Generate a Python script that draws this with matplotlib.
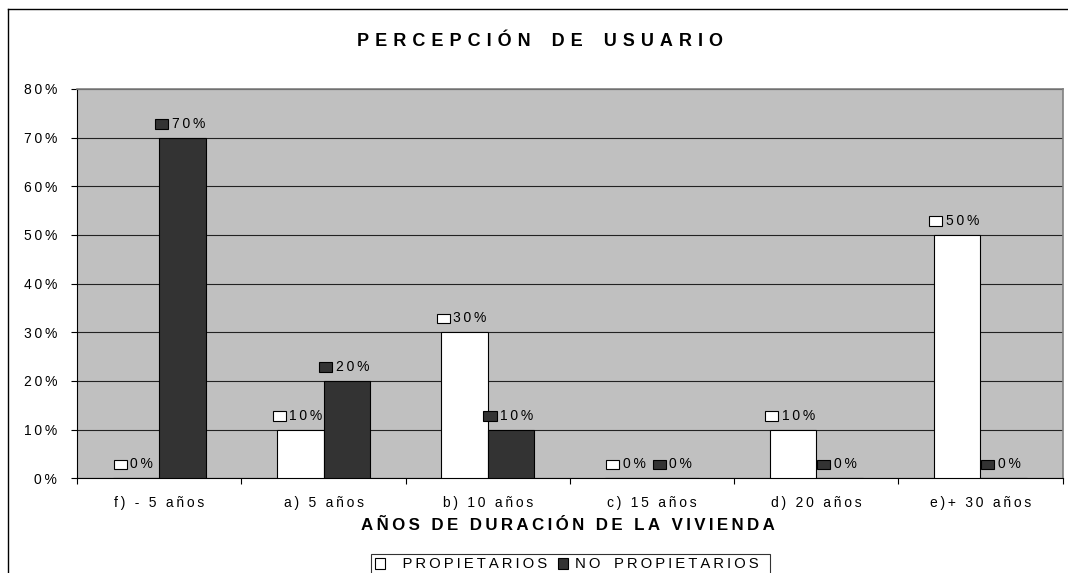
import matplotlib
matplotlib.use("Agg")
import matplotlib.pyplot as plt
import numpy as np
from matplotlib.patches import Rectangle
from matplotlib.offsetbox import HPacker, DrawingArea, TextArea, AnnotationBbox
from matplotlib.lines import Line2D

categories = ["f) - 5 años", "a) 5 años", "b) 10 años", "c) 15 años", "d) 20 años", "e)+ 30 años"]
propietarios = [0, 10, 30, 0, 10, 50]
no_propietarios = [70, 20, 10, 0, 0, 0]
series_names = ["PROPIETARIOS", "NO PROPIETARIOS"]
yticks = [0, 10, 20, 30, 40, 50, 60, 70, 80]

plt.rcParams['font.family'] = ['Liberation Sans', 'DejaVu Sans']

TS = "\u2009"
def sp(s, gap=TS, wordgap=None):
    words = s.split(" ")
    if wordgap is None:
        wordgap = gap + " " + gap
    return wordgap.join(gap.join(list(w)) for w in words)

W, H = 1068, 573
L, R, T, B = 77.3, 1062.5, 89, 478.3
fig = plt.figure(figsize=(W/100, H/100), dpi=100)
ax = fig.add_axes([L/W, 1-B/H, (R-L)/W, (B-T)/H])
ax.set_facecolor("#C0C0C0")

colors = ["#FFFFFF", "#333333"]
x = np.arange(len(categories))
bw = 0.284
vals = [propietarios, no_propietarios]
for i, (v, c) in enumerate(zip(vals, colors)):
    ax.bar(x + (i - 0.5) * bw, v, width=bw, color=c, edgecolor="black", linewidth=0.8, zorder=3)

ax.set_xlim(-0.5, len(categories) - 0.5)
ax.set_ylim(0, 80)
ax.set_yticks(yticks)
ax.set_yticklabels([sp(f"{t}%") for t in yticks], fontsize=10)
ax.yaxis.grid(True, color="#222222", linewidth=0.8, zorder=1)
ax.set_axisbelow(True)

ax.set_xticks(np.arange(len(categories) + 1) - 0.5, minor=False)
ax.set_xticklabels([])
ax.set_xticks(x, minor=True)
ax.set_xticklabels([sp(c) for c in categories], minor=True, fontsize=10)
ax.tick_params(axis="x", which="minor", length=0, pad=13)
ax.tick_params(axis="x", which="major", length=4.5, width=0.8, color="black")
ax.tick_params(axis="y", length=4.5, width=0.8, pad=10)

for s in ["top", "right"]:
    ax.spines[s].set_color("#808080")
    ax.spines[s].set_linewidth(1.2)
ax.spines["left"].set_color("black")
ax.spines["bottom"].set_color("black")

# data labels
for i, (v, c) in enumerate(zip(vals, colors)):
    for j, val in enumerate(v):
        da = DrawingArea(9.5, 7, 0, 0)
        da.add_artist(Rectangle((0, 0), 9.5, 7, facecolor=c, edgecolor="black", linewidth=0.8))
        ta = TextArea(sp(f"{val}%"), textprops=dict(fontsize=10, color="black"))
        box = HPacker(children=[da, ta], align="center", pad=0, sep=2.5)
        ab = AnnotationBbox(box, (x[j] + (i - 0.5) * bw, val), xybox=(-2, 10),
                            xycoords="data", boxcoords="offset points",
                            box_alignment=(0.5, 0.5), frameon=False, zorder=5)
        ax.add_artist(ab)

fig.text(540/W, 1-41/H, sp("PERCEPCIÓN DE USUARIO", gap="\u2004", wordgap="\u2004\u2002\u2004"),
         fontsize=13, fontweight="bold", ha="center", va="center")
fig.text(568/W, 1-526/H, sp("AÑOS DE DURACIÓN DE LA VIVIENDA"),
         fontsize=12.2, fontweight="bold", ha="center", va="center")

handles = [Rectangle((0, 0), 1, 1, facecolor=c, edgecolor="black", linewidth=0.8) for c in colors]
labels = ["\u2002\u2009" + sp(series_names[0]),
          sp(series_names[1], wordgap="\u2009\u2002\u2009") + "\u2002"]
leg = fig.legend(handles, labels, loc="center", bbox_to_anchor=(570.5/W, 1-564.5/H),
                 ncol=2, frameon=True, fancybox=False, edgecolor="black", fontsize=10.7,
                 handlelength=0.7, handleheight=0.7, handletextpad=0.45, columnspacing=0.7,
                 borderpad=0.25, borderaxespad=0)
leg.get_frame().set_linewidth(0.8)

fig.add_artist(Line2D([8/W, 8/W], [0, 1-9/H], transform=fig.transFigure, color="black", linewidth=1))
fig.add_artist(Line2D([8/W, 1], [1-9/H, 1-9/H], transform=fig.transFigure, color="black", linewidth=1))

fig.savefig("out.png", dpi=100)
